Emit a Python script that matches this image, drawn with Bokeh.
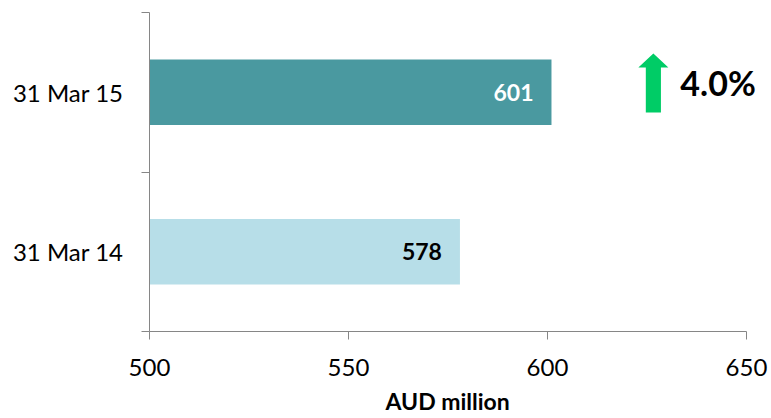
from bokeh.plotting import figure
from bokeh.models import ColumnDataSource, FixedTicker, Range1d, Label, Title
from bokeh.core.properties import value
from bokeh.embed import file_html
from bokeh.resources import INLINE

# Data
categories = ["31 Mar 14", "31 Mar 15"]
values = [578, 601]
bar_colors = ["#B7DEE8", "#4A99A0"]
label_colors = ["#000000", "#FFFFFF"]
x_ticks = [500, 550, 600, 650]
x_title = "AUD million"

FONT = "Lato"

y_pos = [i + 0.5 for i in range(len(categories))]
change = (values[-1] - values[0]) / values[0] * 100
change_text = f"{change:.1f}%"

src = ColumnDataSource(dict(
    y=y_pos, val=values, color=bar_colors, lcol=label_colors,
    txt=[str(v) for v in values], left=[x_ticks[0]] * len(values)))

# frame spans to the right edge so the annotation is not clipped; axis bounded at 650
px_per_unit = 597 / (x_ticks[-1] - x_ticks[0])
x_end = x_ticks[0] + 622 / px_per_unit

p = figure(width=771, height=418, frame_width=622, frame_height=319,
           min_border_left=149, min_border_right=0, min_border_top=12, min_border_bottom=0,
           x_range=Range1d(x_ticks[0], x_end), y_range=Range1d(0, len(categories)),
           output_backend="svg", toolbar_location=None)
p.outline_line_color = None
p.grid.visible = False
p.background_fill_color = "white"
p.border_fill_color = "white"

p.hbar(y="y", left="left", right="val", height=0.41, fill_color="color",
       line_color=None, source=src)
p.text(x="val", y="y", text="txt", text_color="lcol", x_offset=-18,
       text_align="right", text_baseline="middle", text_font=value(FONT),
       text_font_style="bold", text_font_size="23px", source=src)

# x axis
xa = p.xaxis[0]
xa.bounds = (x_ticks[0], x_ticks[-1])
xa.ticker = FixedTicker(ticks=x_ticks, minor_ticks=[])
xa.axis_line_color = "#868686"
xa.major_tick_line_color = "#868686"
xa.major_tick_out = 8
xa.major_tick_in = 0
xa.minor_tick_line_color = None
xa.major_label_text_font = FONT
xa.major_label_text_font_size = "24px"
xa.major_label_text_color = "#000000"
xa.major_label_standoff = 19

# x title, centred under the 500-650 axis
p.add_layout(Title(text=x_title, align="left", offset=236, standoff=12,
                   text_font=FONT, text_font_style="bold", text_font_size="23px",
                   text_color="#000000"), "below")

# y axis
ya = p.yaxis[0]
ya.ticker = FixedTicker(ticks=y_pos, minor_ticks=list(range(len(categories) + 1)))
ya.major_label_overrides = {yy: c for yy, c in zip(y_pos, categories)}
ya.axis_line_color = "#868686"
ya.major_tick_line_color = None
ya.major_tick_out = 0
ya.major_tick_in = 0
ya.minor_tick_line_color = "#868686"
ya.minor_tick_out = 8
ya.minor_tick_in = 0
ya.major_label_text_font = FONT
ya.major_label_text_font_size = "24px"
ya.major_label_text_color = "#000000"
ya.major_label_standoff = 18

# change arrow annotation, anchored to data coordinates
ax_c = 626.6
ay_bot, ay_head, ay_tip = 1.373, 1.655, 1.743
head_w, shaft_w = 3.77, 1.9
p.patch(x=[ax_c - shaft_w, ax_c - shaft_w, ax_c - head_w, ax_c, ax_c + head_w, ax_c + shaft_w, ax_c + shaft_w],
        y=[ay_bot, ay_head, ay_head, ay_tip, ay_head, ay_head, ay_bot],
        fill_color="#00CC66", line_color=None)
p.add_layout(Label(x=ax_c, y=(ay_bot + ay_tip) / 2, x_offset=27, text=change_text,
                   text_font=FONT, text_font_style="bold", text_font_size="34px",
                   text_baseline="middle", text_color="#000000"))

open("out.html", "w").write(file_html(p, INLINE))
